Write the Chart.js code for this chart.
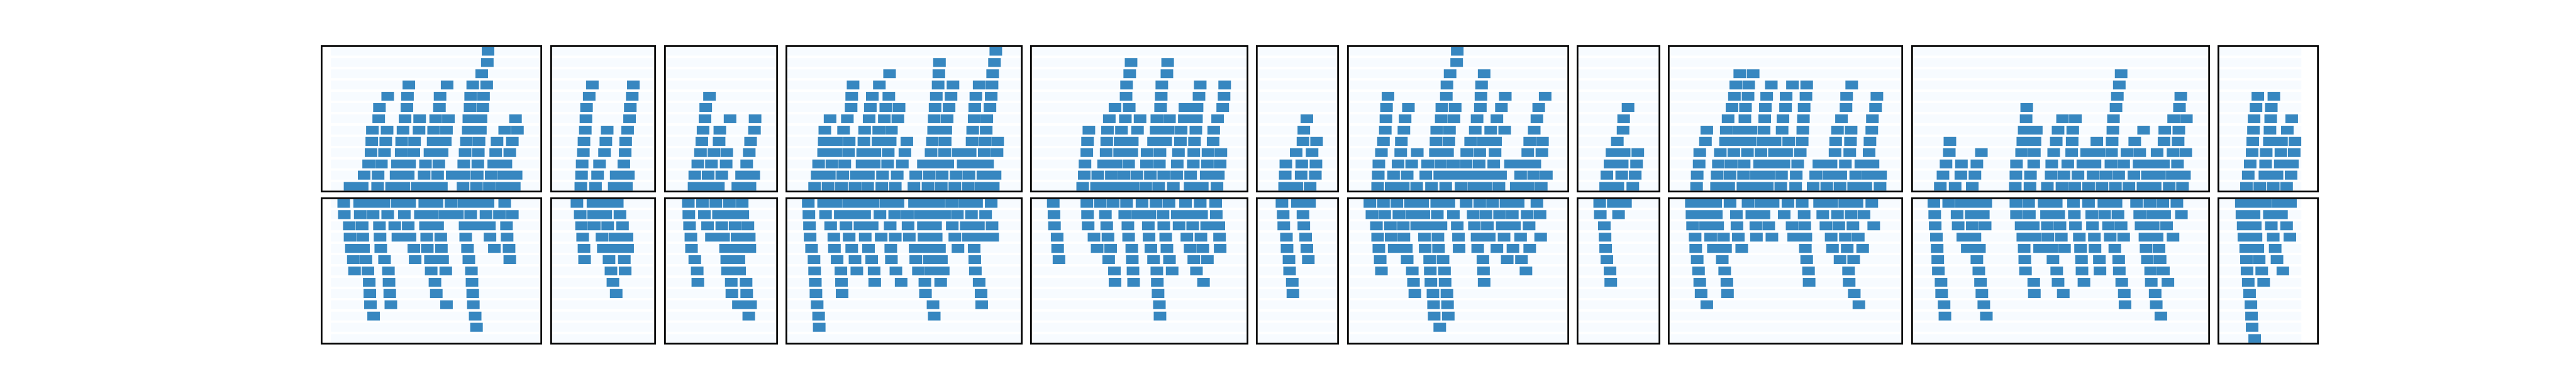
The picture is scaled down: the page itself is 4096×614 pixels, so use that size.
<!DOCTYPE html>
<html>
<head>
<meta charset="utf-8">
<script src="https://cdn.jsdelivr.net/npm/chart.js@4.4.1/dist/chart.umd.min.js"></script>
<style>
  html, body { margin: 0; padding: 0; background: #fff; }
  #wrap { position: relative; width: 4096px; height: 614px; overflow: hidden; }
  #wrap canvas { position: absolute; }
</style>
</head>
<body>
<div id="wrap"></div>
<script>
// one list per row (row 0 = top of the panel), each bar is [start, length] in x units
const p1Top = [
  [[13.13, 1]],
  [[13.07, 1]],
  [[12.61, 1]],
  [[6.61, 1], [9.76, 1], [11.87, 1], [13.02, 1]],
  [[4.87, 1], [6.5, 1], [9.18, 1], [11.7, 1], [12.76, 1]],
  [[4.19, 1], [6.45, 1], [9.13, 1], [11.65, 1], [12.7, 1]],
  [[4.13, 1], [6.3, 1], [7.5, 1], [8.82, 1], [9.87, 1], [11.55, 2], [15.39, 1]],
  [[3.61, 1], [4.82, 1], [6.13, 1], [7.45, 1], [8.65, 1], [9.71, 1], [11.5, 2], [14.5, 1], [15.55, 1]],
  [[3.56, 1], [4.71, 1], [6.02, 1], [7.08, 1], [8.61, 2], [11.35, 1], [12.39, 1], [13.87, 1], [15.13, 1]],
  [[3.5, 1], [4.61, 1], [5.98, 1], [7.02, 1], [8.35, 2], [11.24, 1], [12.33, 1], [13.76, 1], [14.92, 1]],
  [[3.3, 1], [4.35, 1], [5.67, 2], [7.98, 1], [9.08, 1], [11.13, 1], [12.29, 1], [13.6, 2]],
  [[2.93, 1], [4.08, 1], [5.56, 2], [7.87, 1], [8.98, 1], [10.18, 2], [12.24, 1], [13.39, 1], [14.44, 2]],
  [[1.77, 2], [4.04, 1], [5.19, 2], [7.29, 3], [11.07, 1], [12.18, 1], [13.24, 1], [14.29, 2]]
];
const p1Bot = [
  [[1.25, 1], [2.56, 3], [5.67, 2], [7.92, 2], [10.08, 1], [11.13, 3], [14.5, 1]],
  [[1.3, 1], [2.61, 1], [3.67, 1], [4.87, 1], [6.24, 1], [7.56, 2], [9.61, 2], [11.7, 1], [12.96, 1], [14.07, 1], [15.13, 1]],
  [[1.71, 1], [2.77, 1], [4.19, 1], [5.45, 1], [6.56, 1], [7.98, 2], [11.24, 3], [14.65, 1]],
  [[1.77, 1], [2.82, 1], [4.24, 1], [5.71, 2], [8.08, 1], [9.24, 1], [11.29, 1], [13.29, 1], [14.7, 1]],
  [[1.88, 2], [4.3, 1], [7.02, 1], [8.13, 1], [9.29, 1], [11.44, 1], [13.65, 1], [14.86, 1]],
  [[2.04, 1], [3.08, 1], [4.61, 1], [7.13, 1], [8.39, 2], [11.55, 1], [14.92, 1]],
  [[2.14, 1], [3.24, 1], [4.93, 1], [8.45, 1], [9.65, 1], [11.76, 1]],
  [[3.35, 1], [4.98, 1], [8.76, 1], [11.81, 1]],
  [[3.4, 1], [5.04, 1], [8.87, 1], [11.87, 1]],
  [[3.45, 1], [5.13, 1], [9.71, 1], [11.92, 1]],
  [[3.71, 1], [12.07, 1]],
  [[12.18, 1]],
  []
];
const p2Top = [
  [], [], [],
  [[2.82, 1], [6.19, 1]],
  [[2.56, 1], [6.1, 1]],
  [[2.34, 1], [5.94, 1]],
  [[2.29, 1], [5.88, 1]],
  [[2.24, 1], [4.04, 1], [5.72, 1]],
  [[2.13, 1], [3.93, 1], [5.56, 1]],
  [[2.08, 1], [3.82, 1], [5.52, 1]],
  [[1.98, 1], [3.41, 1], [5.41, 1]],
  [[1.93, 1], [3.25, 1], [4.78, 2]],
  [[1.87, 1], [3.08, 1], [4.62, 2]]
];
const p2Bot = [
  [[1.55, 1], [2.87, 3]],
  [[1.82, 1], [2.92, 2], [5.09, 1]],
  [[1.93, 1], [2.98, 1], [4.08, 1], [5.3, 1]],
  [[2.02, 1], [3.61, 1], [4.67, 2]],
  [[2.13, 1], [3.72, 3]],
  [[2.18, 1], [4.19, 1], [5.45, 1]],
  [[4.35, 1], [5.52, 1]],
  [[4.51, 1]],
  [[4.78, 1]],
  [], [], [], []
];
const p3Top = [
  [], [], [], [],
  [[3.09, 1]],
  [[2.78, 1]],
  [[2.72, 1], [4.78, 1], [6.84, 1]],
  [[2.56, 1], [3.94, 1], [6.79, 1]],
  [[2.46, 1], [3.88, 1], [6.47, 1]],
  [[2.35, 1], [3.45, 1], [4.51, 1], [6.36, 1]],
  [[2.13, 1], [3.25, 1], [4.46, 1], [6.15, 1]],
  [[1.88, 1], [2.98, 1], [4.1, 1], [5.73, 2]],
  [[1.82, 3], [5.42, 2]]
];
const p3Bot = [
  [[1.35, 1], [2.51, 1], [3.61, 1], [4.73, 1], [5.78, 1]],
  [[1.39, 1], [2.67, 1], [3.83, 3]],
  [[1.45, 1], [2.93, 1], [4.1, 1], [5.2, 1], [6.25, 1]],
  [[1.56, 1], [3.25, 2], [5.36, 2]],
  [[1.61, 1], [4.41, 3]],
  [[1.88, 1], [4.51, 2]],
  [[2.08, 1], [4.57, 2]],
  [[2.13, 1], [4.88, 1], [6.1, 1]],
  [[4.93, 1], [6.15, 1]],
  [[5.47, 2]],
  [[6.32, 1]],
  [], []
];
const p4Top = [
  [[16.64, 1]],
  [[12.01, 1], [16.53, 1]],
  [[7.91, 1], [11.96, 1], [16.38, 1]],
  [[4.91, 1], [7.07, 1], [11.9, 1], [13.12, 1], [15.27, 1], [16.33, 1]],
  [[4.8, 1], [6.49, 1], [7.85, 1], [11.75, 1], [12.96, 1], [15.0, 1], [16.26, 1]],
  [[4.75, 1], [6.33, 1], [7.6, 1], [8.69, 1], [11.65, 1], [12.8, 1], [14.91, 1], [16.16, 1]],
  [[3.02, 1], [4.44, 1], [6.23, 1], [7.48, 1], [8.59, 1], [11.58, 1], [12.64, 1], [14.86, 1], [15.9, 1]],
  [[2.59, 1], [4.13, 1], [5.86, 1], [7.02, 1], [8.06, 1], [11.53, 2], [14.74, 1], [15.85, 1]],
  [[2.54, 2], [4.59, 1], [5.8, 1], [6.96, 2], [9.33, 1], [11.43, 1], [12.48, 1], [14.69, 1], [15.75, 1], [16.79, 1]],
  [[2.49, 2], [4.54, 1], [5.7, 2], [7.8, 1], [9.17, 1], [11.32, 1], [12.43, 1], [13.53, 2], [15.69, 1], [16.74, 1]],
  [[2.08, 1], [3.17, 1], [4.23, 1], [5.65, 2], [7.75, 1], [8.96, 1], [10.69, 3], [13.96, 3]],
  [[1.96, 2], [4.06, 1], [5.17, 2], [7.33, 1], [8.54, 1], [10.06, 1], [11.17, 1], [12.23, 1], [13.38, 1], [14.43, 1], [15.58, 2]],
  [[1.75, 1], [2.86, 1], [3.96, 1], [5.07, 1], [6.11, 1], [7.27, 1], [8.38, 1], [9.91, 1], [11.07, 1], [12.16, 1], [13.27, 1], [14.38, 1], [15.43, 2]]
];
const p4Bot = [
  [[1.23, 1], [2.49, 2], [4.54, 3], [7.6, 2], [9.96, 3], [13.01, 1], [14.06, 2], [16.26, 1]],
  [[1.28, 1], [2.65, 1], [3.86, 3], [7.12, 1], [8.33, 1], [9.38, 1], [10.43, 3], [13.48, 1], [14.64, 1], [15.8, 1]],
  [[1.33, 1], [3.07, 1], [4.33, 1], [5.48, 2], [7.96, 1], [9.43, 1], [10.69, 2], [13.06, 1], [14.21, 2], [16.33, 1]],
  [[1.38, 1], [3.33, 1], [4.59, 1], [5.91, 1], [7.22, 1], [8.38, 1], [9.53, 1], [10.74, 2], [13.27, 1], [14.38, 3]],
  [[1.5, 1], [3.38, 1], [4.8, 1], [6.18, 1], [8.01, 1], [10.01, 3], [13.53, 1], [14.86, 1]],
  [[1.7, 1], [3.6, 1], [5.07, 1], [6.44, 1], [8.06, 1], [10.06, 1], [11.17, 2], [14.91, 1]],
  [[1.75, 1], [3.91, 1], [5.22, 1], [6.64, 1], [8.43, 1], [10.28, 1], [11.32, 2], [14.96, 1]],
  [[1.81, 1], [3.96, 1], [6.69, 1], [8.86, 1], [10.81, 1], [12.11, 1], [15.27, 1]],
  [[1.86, 1], [4.01, 1], [10.86, 1], [15.43, 1]],
  [[1.96, 1], [11.48, 1], [15.48, 1]],
  [[2.08, 1], [11.58, 1]],
  [[2.13, 1]],
  []
];
const p5Top = [
  [],
  [[7.66, 1], [10.67, 1]],
  [[7.55, 1], [10.61, 1]],
  [[7.29, 1], [10.19, 1], [13.35, 1], [15.36, 1]],
  [[7.25, 1], [10.14, 1], [13.25, 1], [15.31, 1]],
  [[6.34, 1], [7.51, 1], [10.09, 1], [12.09, 2], [15.2, 1]],
  [[5.87, 1], [7.19, 1], [8.4, 1], [9.78, 1], [10.82, 1], [12.04, 2], [14.78, 1]],
  [[4.19, 1], [5.72, 1], [6.87, 1], [8.19, 1], [9.72, 2], [11.78, 1], [12.99, 1], [14.46, 1]],
  [[4.08, 1], [5.66, 1], [6.76, 2], [9.51, 2], [11.72, 1], [12.88, 1], [14.41, 1]],
  [[4.02, 1], [5.61, 1], [6.72, 2], [8.98, 1], [10.04, 1], [11.56, 1], [12.82, 1], [13.99, 1], [15.05, 1]],
  [[3.87, 1], [5.4, 2], [7.46, 1], [8.93, 1], [9.99, 1], [11.46, 1], [12.78, 1], [13.94, 1], [14.99, 1]],
  [[3.81, 1], [4.92, 1], [6.04, 1], [7.08, 1], [8.14, 1], [9.25, 1], [10.35, 1], [11.41, 1], [12.56, 1], [13.84, 2]],
  [[3.68, 1], [4.82, 4], [8.87, 1], [9.93, 1], [11.14, 1], [12.52, 2], [14.73, 1]]
];
const p5Bot = [
  [[1.26, 1], [4.02, 1], [5.13, 1], [6.19, 1], [7.29, 1], [8.56, 1], [9.72, 1], [10.78, 1], [12.14, 1], [13.35, 1], [14.62, 1]],
  [[1.32, 1], [4.08, 1], [5.55, 1], [7.14, 1], [8.19, 2], [10.29, 1], [11.46, 3], [14.67, 1]],
  [[1.36, 1], [4.13, 1], [5.66, 1], [7.4, 1], [9.08, 1], [10.35, 1], [11.61, 1], [12.73, 1], [13.88, 2]],
  [[1.58, 1], [4.61, 1], [5.76, 1], [7.46, 1], [9.14, 1], [10.51, 1], [12.25, 1], [13.41, 1], [14.94, 1]],
  [[1.62, 1], [4.87, 1], [5.98, 1], [7.72, 1], [9.29, 1], [10.61, 1], [12.52, 1], [13.56, 1], [14.99, 1]],
  [[1.73, 1], [5.82, 1], [7.76, 1], [9.51, 1], [10.82, 1], [12.82, 1], [13.94, 1]],
  [[6.29, 1], [7.82, 1], [9.78, 1], [11.04, 1], [13.04, 1]],
  [[6.34, 1], [7.87, 1], [9.82, 1], [13.62, 1]],
  [[9.88, 1]],
  [[9.99, 1]],
  [[10.04, 1]],
  [], []
];
const p6Top = [
  [], [], [], [], [], [],
  [[3.55, 1]],
  [[3.3, 1]],
  [[3.23, 1], [4.35, 1]],
  [[2.67, 1], [3.98, 1]],
  [[1.82, 1], [3.13, 1], [4.3, 1]],
  [[1.77, 1], [3.08, 1], [4.25, 1]],
  [[1.72, 2], [3.82, 1]]
];
const p6Bot = [
  [[1.5, 1], [2.77, 2]],
  [[1.6, 1], [3.23, 1]],
  [[1.65, 1], [3.3, 1]],
  [[1.87, 1], [3.45, 1]],
  [[1.92, 1], [3.55, 1]],
  [[2.08, 1], [3.67, 1]],
  [[2.13, 1]],
  [[2.35, 1]],
  [[2.4, 1]],
  [], [], [], []
];
const p7Top = [
  [[8.42, 1]],
  [[8.37, 1]],
  [[7.83, 1], [10.63, 1]],
  [[7.57, 1], [10.42, 1]],
  [[2.72, 1], [7.52, 1], [10.37, 1], [12.37, 1], [15.65, 1]],
  [[2.6, 1], [4.4, 1], [7.15, 1], [8.25, 1], [10.32, 1], [12.05, 1], [15.12, 1]],
  [[2.55, 1], [4.13, 1], [7.1, 1], [8.15, 1], [10.05, 1], [11.68, 1], [14.97, 1]],
  [[2.5, 1], [4.03, 1], [6.73, 1], [7.78, 1], [9.9, 1], [11.17, 1], [12.32, 1], [14.75, 1]],
  [[2.35, 1], [3.82, 1], [6.67, 1], [7.73, 1], [9.52, 1], [10.57, 2], [14.38, 1], [15.43, 1]],
  [[2.18, 1], [3.77, 1], [5.13, 1], [6.62, 2], [9.2, 1], [10.27, 1], [11.53, 1], [14.22, 1], [15.38, 1]],
  [[1.97, 1], [3.55, 1], [4.67, 1], [5.98, 1], [7.05, 1], [8.1, 1], [9.15, 1], [10.22, 1], [11.42, 1], [12.8, 3]],
  [[1.92, 1], [3.18, 1], [4.3, 1], [5.83, 1], [6.98, 6], [13.63, 1], [14.7, 1], [15.75, 1]],
  [[1.87, 1], [2.98, 2], [5.08, 1], [6.3, 1], [7.47, 1], [8.73, 1], [9.78, 2], [11.85, 1], [13.27, 2], [15.33, 1]]
];
const p7Bot = [
  [[1.23, 1], [2.35, 1], [3.45, 1], [4.57, 2], [6.73, 2], [9.15, 1], [10.27, 1], [11.32, 1], [12.43, 2], [14.97, 1]],
  [[1.4, 1], [2.45, 1], [3.62, 1], [4.67, 2], [6.78, 1], [8.1, 1], [9.73, 1], [10.78, 1], [11.9, 1], [12.95, 1], [14.17, 1], [15.23, 1]],
  [[1.77, 1], [2.92, 1], [3.98, 1], [5.08, 3], [8.42, 1], [9.83, 1], [10.9, 1], [12.12, 2], [14.33, 1]],
  [[1.87, 1], [2.98, 1], [4.03, 1], [5.72, 1], [6.83, 1], [8.52, 1], [10.05, 2], [12.27, 1], [13.63, 1], [15.28, 1]],
  [[1.97, 1], [3.23, 2], [5.78, 1], [6.88, 1], [8.57, 1], [10.1, 1], [11.68, 1], [13.0, 1], [14.38, 1]],
  [[2.08, 1], [4.3, 1], [6.15, 1], [7.25, 1], [10.53, 1], [12.53, 1], [13.7, 1]],
  [[2.18, 1], [4.72, 1], [6.2, 1], [7.37, 1], [10.58, 1], [14.07, 1]],
  [[4.82, 1], [6.25, 1], [7.42, 1], [10.63, 1]],
  [[4.93, 1], [6.42, 1], [7.57, 1]],
  [[6.47, 1], [7.62, 1]],
  [[6.52, 1], [7.68, 1]],
  [[6.98, 1]],
  []
];
const p8Top = [
  [], [], [], [], [],
  [[3.58, 1]],
  [[3.22, 1]],
  [[3.17, 1]],
  [[2.7, 1]],
  [[2.26, 2], [4.38, 1]],
  [[2.1, 2], [4.28, 1]],
  [[1.84, 1], [3.06, 1], [4.17, 1]],
  [[1.74, 2], [3.97, 1]]
];
const p8Bot = [
  [[1.25, 1], [2.37, 2]],
  [[1.3, 1], [2.8, 1]],
  [[1.63, 1]],
  [[1.69, 1]],
  [[1.74, 1]],
  [[1.84, 1]],
  [[2.1, 1]],
  [[2.16, 1]],
  [], [], [], [], []
];
const p9Top = [
  [], [],
  [[5.27, 1], [6.37, 1]],
  [[4.94, 1], [6.0, 1], [7.86, 1], [9.6, 1], [10.77, 1], [14.47, 1]],
  [[4.83, 1], [5.95, 1], [7.48, 1], [9.08, 1], [10.71, 1], [14.05, 1], [16.54, 1]],
  [[4.63, 1], [5.74, 1], [7.37, 1], [9.03, 1], [10.56, 1], [14.0, 1], [16.43, 1]],
  [[4.31, 1], [5.69, 1], [7.32, 1], [8.82, 1], [10.5, 1], [13.63, 1], [16.17, 1]],
  [[2.56, 1], [4.16, 1], [5.2, 2], [7.27, 1], [8.75, 1], [10.45, 1], [13.3, 1], [14.42, 1], [16.12, 1]],
  [[2.45, 1], [4.1, 3], [7.17, 2], [9.29, 1], [10.4, 1], [13.15, 1], [14.37, 1], [15.97, 1]],
  [[1.98, 1], [3.67, 1], [4.78, 1], [5.9, 1], [7.01, 1], [8.12, 2], [10.24, 1], [13.1, 1], [14.31, 1], [15.9, 1]],
  [[1.93, 1], [3.51, 1], [4.57, 1], [5.63, 1], [6.9, 3], [10.03, 1], [11.77, 2], [13.95, 1], [15.22, 2]],
  [[1.77, 1], [3.41, 1], [4.47, 1], [5.58, 1], [6.64, 2], [8.7, 1], [9.91, 1], [11.51, 1], [12.57, 2], [14.8, 1], [15.84, 2]],
  [[1.72, 1], [3.36, 2], [5.53, 3], [8.64, 1], [9.86, 1], [11.3, 1], [12.42, 1], [13.51, 1], [14.63, 2], [16.8, 1]]
];
const p9Bot = [
  [[1.29, 3], [4.47, 1], [5.95, 1], [7.01, 2], [9.23, 1], [10.4, 1], [11.83, 2], [13.9, 2], [16.12, 1]],
  [[1.34, 3], [4.99, 1], [6.26, 2], [8.92, 1], [10.56, 1], [12.09, 1], [13.3, 1], [14.42, 1], [15.48, 1]],
  [[1.39, 1], [2.45, 2], [5.04, 1], [6.59, 1], [7.65, 1], [9.57, 1], [10.61, 1], [12.35, 1], [13.41, 1], [14.57, 1], [16.28, 1]],
  [[1.6, 1], [2.87, 1], [3.93, 1], [5.15, 1], [6.64, 1], [7.91, 1], [9.7, 2], [12.78, 1], [13.95, 1], [15.01, 1]],
  [[1.65, 1], [3.1, 2], [5.43, 1], [10.66, 1], [12.89, 1], [14.1, 1], [15.37, 1]],
  [[1.77, 1], [3.83, 1], [10.77, 1], [13.51, 1], [14.63, 1]],
  [[1.88, 1], [4.03, 1], [10.92, 1], [14.21, 1]],
  [[1.98, 1], [4.21, 1], [10.97, 1], [14.26, 1]],
  [[2.09, 1], [4.26, 1], [14.68, 1]],
  [[2.56, 1], [15.06, 1]],
  [], [], []
];
const p10Top = [
  [], [],
  [[16.63, 1]],
  [[16.48, 1]],
  [[16.32, 1], [21.54, 1]],
  [[8.86, 1], [16.21, 1], [21.43, 1]],
  [[8.81, 1], [11.81, 1], [12.87, 1], [16.0, 1], [20.95, 1], [22.0, 1]],
  [[8.65, 2], [11.44, 1], [12.65, 1], [15.95, 1], [18.48, 1], [20.22, 1], [21.38, 1]],
  [[2.54, 1], [8.54, 2], [11.29, 1], [12.6, 1], [14.63, 1], [15.89, 1], [17.75, 1], [20.16, 1], [21.32, 1]],
  [[2.49, 1], [5.13, 1], [8.44, 1], [9.49, 1], [11.08, 1], [12.56, 1], [13.79, 2], [15.84, 1], [17.11, 1], [18.16, 1], [19.59, 1], [20.9, 1], [21.95, 1]],
  [[2.22, 1], [3.49, 1], [4.76, 1], [8.02, 1], [9.44, 1], [10.92, 1], [12.24, 1], [13.48, 2], [15.79, 1], [16.84, 1], [18.11, 3], [21.27, 1]],
  [[1.97, 1], [3.44, 1], [4.6, 1], [7.97, 1], [9.17, 1], [10.87, 1], [11.92, 1], [13.08, 1], [14.32, 1], [15.37, 1], [16.43, 1], [17.68, 1], [18.79, 2], [20.84, 2]],
  [[1.75, 1], [2.97, 1], [4.38, 1], [7.92, 1], [9.13, 1], [10.56, 1], [11.76, 1], [12.81, 1], [13.95, 1], [15.05, 1], [16.16, 1], [17.27, 1], [18.43, 2], [20.59, 1], [21.68, 1]]
];
const p10Bot = [
  [[1.22, 1], [2.44, 1], [3.49, 3], [7.97, 1], [9.02, 1], [10.29, 2], [12.71, 1], [13.95, 1], [15.21, 2], [17.9, 1], [19.0, 1], [20.06, 1], [21.22, 1]],
  [[1.29, 1], [3.13, 1], [4.29, 2], [8.02, 1], [9.08, 1], [10.49, 2], [12.78, 1], [14.21, 1], [15.27, 1], [16.37, 1], [18.16, 1], [19.21, 2], [21.59, 1]],
  [[1.33, 1], [3.22, 1], [4.38, 1], [5.44, 1], [8.4, 2], [10.56, 1], [11.6, 1], [12.87, 1], [14.27, 1], [15.59, 1], [16.63, 1], [18.27, 2], [20.37, 1]],
  [[1.43, 1], [3.6, 2], [8.54, 2], [10.6, 1], [11.71, 1], [13.19, 1], [14.43, 1], [15.73, 1], [16.84, 1], [18.59, 2], [20.9, 1]],
  [[1.49, 1], [3.97, 2], [8.65, 1], [9.92, 2], [11.97, 1], [13.29, 1], [14.48, 1], [16.11, 1], [18.68, 1], [19.75, 1]],
  [[1.54, 1], [4.76, 1], [8.7, 1], [11.02, 1], [13.37, 1], [14.84, 1], [16.43, 1], [18.79, 1], [19.84, 1]],
  [[1.59, 1], [4.92, 1], [8.76, 1], [11.33, 1], [13.41, 1], [14.89, 1], [16.48, 1], [19.06, 1], [20.11, 1]],
  [[1.81, 1], [5.06, 1], [9.44, 1], [11.44, 1], [13.57, 1], [16.68, 1], [19.11, 1], [20.48, 1]],
  [[1.86, 1], [5.17, 1], [9.49, 1], [11.87, 1], [16.89, 1], [19.43, 1]],
  [[2.06, 1], [5.33, 1], [16.95, 1], [19.52, 1]],
  [[2.13, 1], [5.54, 1], [19.9, 1]],
  [], []
];
const p11Top = [
  [], [], [], [],
  [[2.68, 1], [4.0, 1]],
  [[2.53, 1], [3.79, 1]],
  [[2.37, 1], [3.74, 1], [5.47, 1]],
  [[2.32, 1], [3.68, 1], [5.11, 1]],
  [[2.26, 1], [3.63, 2], [5.74, 1]],
  [[2.21, 1], [3.37, 1], [4.58, 1], [5.68, 1]],
  [[2.05, 1], [3.32, 1], [4.53, 2]],
  [[1.89, 1], [3.26, 2], [5.42, 1]],
  [[1.74, 1], [2.84, 1], [3.95, 1], [5.05, 1]]
];
const p11Bot = [
  [[1.32, 3], [4.37, 2]],
  [[1.37, 2], [3.63, 2]],
  [[1.47, 2], [3.79, 1], [5.05, 1]],
  [[1.53, 2], [3.95, 1], [5.32, 1]],
  [[1.68, 2], [4.11, 1]],
  [[1.74, 1], [2.79, 1], [4.26, 1]],
  [[1.79, 1], [3.0, 1], [4.74, 1]],
  [[1.89, 1], [3.16, 1]],
  [[2.0, 1]],
  [[2.11, 1]],
  [[2.16, 1]],
  [[2.21, 1]],
  [[2.42, 1]]
];

// x range of each panel and the span of its light row bands
const spans = [17.94, 8.41, 9.08, 19.2, 17.67, 6.55, 17.98, 6.59, 19.05, 24.3, 8.06];
const bandFrom = [0.72, 0, 0, 0, 0, 0, 0, 0, 0, 0, 0];
const bandTo = [17.88, 8.41, 9.08, 19.2, 17.67, 6.55, 17.98, 6.59, 19.05, 24.3, 6.75];

const topPanels = [p1Top, p2Top, p3Top, p4Top, p5Top, p6Top, p7Top, p8Top, p9Top, p10Top, p11Top];
const bottomPanels = [p1Bot, p2Bot, p3Bot, p4Bot, p5Bot, p6Bot, p7Bot, p8Bot, p9Bot, p10Bot, p11Bot];

const S = 0.512;
const UNIT = 37.77 * S;
const FRAME = 5.33 * S;
const GAP = 24 * S;
const LEFT0 = 997 * S;
const TOPS = [141.3 * S, 614 * S];
const INNER_H = 445.4 * S;
const ROW_H = INNER_H / 12.75;

const framePlugin = {
  id: 'frame',
  afterDraw(chart) {
    let ctx = chart.ctx;
    ctx.save();
    ctx.lineWidth = FRAME;
    ctx.strokeStyle = '#000000';
    ctx.strokeRect(FRAME / 2, FRAME / 2, chart.width - FRAME, chart.height - FRAME);
    ctx.restore();
  }
};

function drawPanel(rows, i, left, top) {
  let canvas = document.createElement('canvas');
  let w = Math.round(spans[i] * UNIT + 2 * FRAME);
  let h = Math.round(INNER_H + 2 * FRAME);
  canvas.width = w;
  canvas.height = h;
  canvas.style.width = w + 'px';
  canvas.style.height = h + 'px';
  canvas.style.left = Math.round(left) + 'px';
  canvas.style.top = Math.round(top) + 'px';
  document.getElementById('wrap').appendChild(canvas);

  let bars = [];
  rows.forEach((row, r) => {
    row.forEach(b => bars.push({x: [b[0], b[0] + b[1]], y: r}));
  });
  let bands = rows.map((row, r) => ({x: [bandFrom[i], bandTo[i]], y: r}));

  new Chart(canvas.getContext('2d'), {
    type: 'bar',
    data: {
      datasets: [
        {
          label: 'tiles',
          data: bars,
          backgroundColor: '#3787c0',
          borderWidth: 0,
          order: 1
        },
        {
          label: 'rows',
          data: bands,
          backgroundColor: '#f7fbff',
          borderWidth: 0,
          order: 2
        }
      ]
    },
    options: {
      indexAxis: 'y',
      responsive: false,
      animation: false,
      events: [],
      layout: {padding: FRAME},
      datasets: {
        bar: {grouped: false, barThickness: ROW_H * 0.75}
      },
      plugins: {
        legend: {display: false},
        tooltip: {enabled: false}
      },
      scales: {
        x: {type: 'linear', min: 0, max: spans[i], display: false},
        y: {type: 'linear', min: -0.375, max: 12.375, reverse: true, offset: false, display: false}
      }
    },
    plugins: [framePlugin]
  });
}

document.addEventListener('DOMContentLoaded', function () {
  let left = LEFT0;
  for (let i = 0; i < spans.length; i++) {
    drawPanel(topPanels[i], i, left, TOPS[0]);
    drawPanel(bottomPanels[i], i, left, TOPS[1]);
    left += spans[i] * UNIT + 2 * FRAME + GAP;
  }
});
</script>
</body>
</html>
